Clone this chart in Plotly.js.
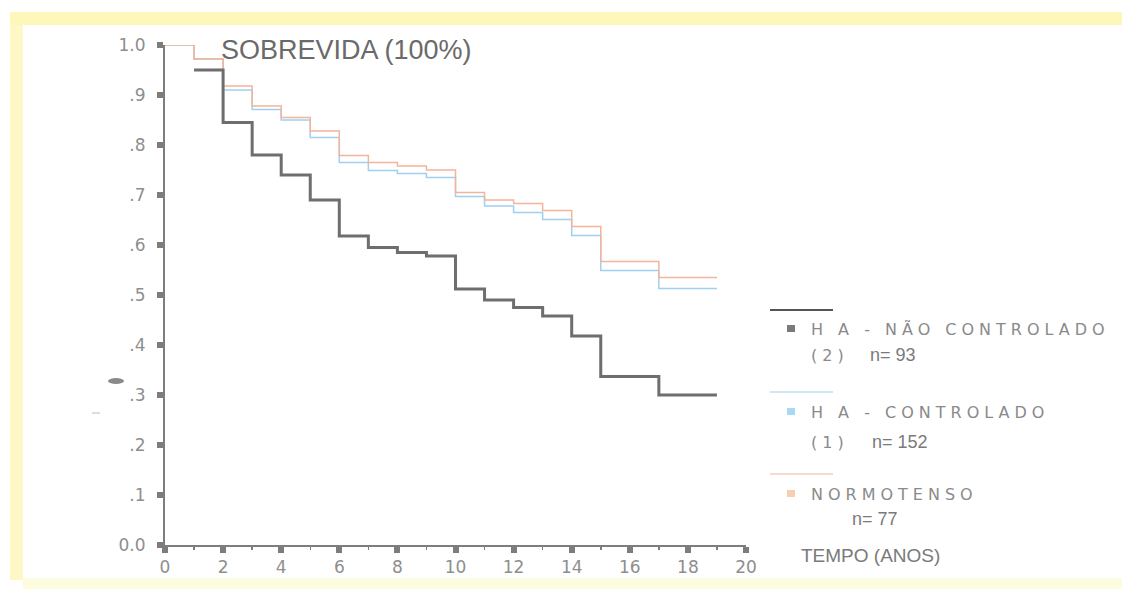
<!DOCTYPE html>
<html>
<head>
<meta charset="utf-8">
<script src="https://cdn.plot.ly/plotly-3.0.1.min.js"></script>
<style>
html,body{margin:0;padding:0;background:#fff;}
#chart{width:1122px;height:589px;}
</style>
</head>
<body>
<div id="chart"></div>
<script>
// ---- data ----
const timeUncontrolled = [1,2,3,4,5,6,7,8,9,10,11,12,13,14,15,17,19];
const survUncontrolled = [0.95,0.845,0.78,0.74,0.69,0.618,0.595,0.585,0.578,0.512,0.49,0.475,0.458,0.418,0.337,0.30,0.30];

const timeControlled = [0,1,2,3,4,5,6,7,8,9,10,11,12,13,14,15,17,19];
const survControlled = [1.0,0.972,0.91,0.871,0.85,0.815,0.765,0.749,0.743,0.735,0.697,0.678,0.665,0.651,0.619,0.549,0.513,0.513];

const timeNormo = [0,1,2,3,4,5,6,7,8,9,10,11,12,13,14,15,17,19];
const survNormo = [1.0,0.972,0.918,0.878,0.855,0.828,0.779,0.765,0.758,0.75,0.705,0.69,0.683,0.669,0.637,0.567,0.535,0.535];

const seriesNames = ["H A - NÃO CONTROLADO", "H A - CONTROLADO", "NORMOTENSO"];
const groupCodes = ["(2)", "(1)", ""];
const groupCounts = ["n= 93", "n= 152", "n= 77"];

const yTickVals = [0,0.1,0.2,0.3,0.4,0.5,0.6,0.7,0.8,0.9,1.0];
const yTickText = ["0.0",".1",".2",".3",".4",".5",".6",".7",".8",".9","1.0"];
const xTickVals = [0,2,4,6,8,10,12,14,16,18,20];

const chartTitle = "SOBREVIDA (100%)";
const xLabel = "TEMPO (ANOS)";

// ---- styling ----
const colors = ["#6e6e6e", "#9fd0f0", "#f4b49c"];
const squareColors = ["#7a7a7a", "#a9d9f2", "#f7cfb0"];
const widths = [3, 1.5, 1.5];

const W = 1122, H = 589;
const M = {l:165, r:376, t:45, b:44};
const PW = W - M.l - M.r, PH = H - M.t - M.b;
const px = x => (x - M.l) / PW;        // pixel -> paper x
const py = y => (H - M.b - y) / PH;     // pixel -> paper y

const traces = [
  {x: timeControlled, y: survControlled, name: seriesNames[1], line:{color:colors[1], width:widths[1], shape:'hv'}},
  {x: timeNormo, y: survNormo, name: seriesNames[2], line:{color:colors[2], width:widths[2], shape:'hv'}},
  {x: timeUncontrolled, y: survUncontrolled, name: seriesNames[0], line:{color:colors[0], width:widths[0], shape:'hv'}}
].map(t => Object.assign({type:'scatter', mode:'lines', hoverinfo:'skip'}, t));

const shapes = [];
const annotations = [];

// yellow scan frame
shapes.push({type:'rect', xref:'paper', yref:'paper', x0:px(10), x1:px(1122), y0:py(25), y1:py(12), fillcolor:'rgba(253,240,130,0.55)', line:{width:0}, layer:'below'});
shapes.push({type:'rect', xref:'paper', yref:'paper', x0:px(10), x1:px(23), y0:py(580), y1:py(25), fillcolor:'rgba(253,240,130,0.45)', line:{width:0}, layer:'below'});
shapes.push({type:'rect', xref:'paper', yref:'paper', x0:px(23), x1:px(1122), y0:py(589), y1:py(578), fillcolor:'rgba(250,252,200,0.6)', line:{width:0}, layer:'below'});
// scan specks
shapes.push({type:'circle', xref:'paper', yref:'paper', x0:px(108), x1:px(124), y0:py(384), y1:py(378), fillcolor:'#8a8a8a', line:{width:0}});
shapes.push({type:'line', xref:'paper', yref:'paper', x0:px(92), x1:px(100), y0:py(413), y1:py(413), line:{color:'#d0d0d0', width:1.5}});

// legend
const lineY = [310, 392, 474];
const nameY = [329, 412, 494];
const codeY = [355, 442, 519];
const countX = [868, 870, 850];
const leftTargets = {};
for (let i = 0; i < seriesNames.length; i++) {
  shapes.push({type:'line', xref:'paper', yref:'paper', x0:px(770), x1:px(833), y0:py(lineY[i]), y1:py(lineY[i]),
    line:{color: i === 0 ? '#555' : colors[i], width: i === 0 ? 2 : 1.2}});
  shapes.push({type:'rect', xref:'paper', yref:'paper', x0:px(787), x1:px(795), y0:py(nameY[i]+3), y1:py(nameY[i]-4),
    fillcolor:squareColors[i], line:{width:0}});
  annotations.push({xref:'paper', yref:'paper', x:px(811), y:py(nameY[i]), xanchor:'left', yanchor:'middle', showarrow:false,
    text:seriesNames[i], font:{family:'DejaVu Sans', size:16, color:'#8a8a8a'}});
  leftTargets[seriesNames[i]] = 811;
  if (groupCodes[i]) {
    annotations.push({xref:'paper', yref:'paper', x:px(811), y:py(codeY[i]), xanchor:'left', yanchor:'middle', showarrow:false,
      text:groupCodes[i], font:{family:'DejaVu Sans', size:16, color:'#8a8a8a'}});
    leftTargets[groupCodes[i]] = 811;
  }
  annotations.push({xref:'paper', yref:'paper', x:px(countX[i]), y:py(codeY[i]), xanchor:'left', yanchor:'middle', showarrow:false,
    text:groupCounts[i], font:{family:'Liberation Sans', size:18, color:'#7a7a7a'}});
}
annotations.push({xref:'paper', yref:'paper', x:px(799), y:py(555), xanchor:'left', yanchor:'middle', showarrow:false,
  text:xLabel, font:{family:'Liberation Sans', size:19, color:'#7a7a7a'}});
annotations.push({xref:'paper', yref:'paper', x:px(219), y:py(50), xanchor:'left', yanchor:'middle', showarrow:false,
  text:chartTitle, font:{family:'Liberation Sans', size:27, color:'#6a6a6a'}});

const tickFont = {family:'DejaVu Sans', size:17, color:'#8e8e8e'};
const layout = {
  width:W, height:H,
  margin:{l:M.l, r:M.r, t:M.t, b:M.b, pad:0},
  paper_bgcolor:'#ffffff', plot_bgcolor:'rgba(0,0,0,0)',
  showlegend:false,
  xaxis:{range:[0,20], tickvals:xTickVals, ticks:'outside', ticklen:6, tickwidth:6, tickcolor:'#7d7d7d',
    showline:true, linecolor:'#7d7d7d', linewidth:2, showgrid:false, zeroline:false, tickfont:tickFont,
    minor:{dtick:1, tick0:0, ticks:'outside', ticklen:3, tickwidth:1.5, tickcolor:'#7d7d7d', showgrid:false}},
  yaxis:{range:[0,1], tickvals:yTickVals, ticktext:yTickText, ticks:'outside', ticklen:6, tickwidth:6, tickcolor:'#7d7d7d',
    showline:true, linecolor:'#7d7d7d', linewidth:2, showgrid:false, zeroline:false, tickfont:tickFont, ticklabelstandoff:8},
  shapes:shapes, annotations:annotations
};

Plotly.newPlot('chart', traces, layout, {displayModeBar:false, staticPlot:true}).then(() => {
  const host = document.getElementById('chart').getBoundingClientRect();
  document.querySelectorAll('g.annotation text').forEach(t => {
    const key = t.textContent;
    if (key in leftTargets) {
      t.style.letterSpacing = '5px';
      const left = t.getBoundingClientRect().left - host.left;
      const cur = parseFloat(t.getAttribute('x') || '0');
      t.setAttribute('x', cur + (leftTargets[key] - left));
    }
  });
});
</script>
</body>
</html>
